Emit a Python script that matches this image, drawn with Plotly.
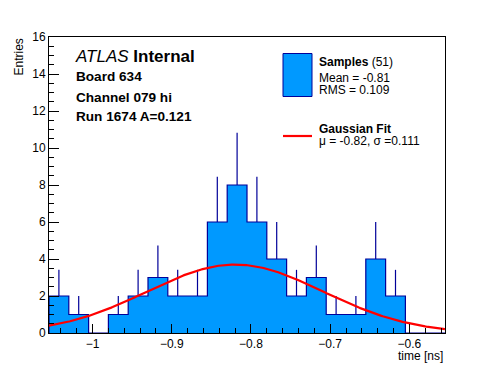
import numpy as np
import plotly.graph_objects as go

# ---- data ----
bin_low = -1.055
bin_width = 0.025
counts = [2, 1, 0, 1, 2, 3, 2, 2, 6, 8, 6, 4, 2, 3, 1, 1, 4, 2, 0, 0]
fit_mu = -0.82
fit_sigma = 0.111
fit_amp = 3.7
x_ticks = [-1.0, -0.9, -0.8, -0.7, -0.6]
x_ticklabels = ["\u22121", "\u22120.9", "\u22120.8", "\u22120.7", "\u22120.6"]
y_ticks = [0, 2, 4, 6, 8, 10, 12, 14, 16]
n_entries = 51
mean_txt = "-0.81"
rms_txt = "0.109"

FILL = "#0099ff"
EDGE = "#000099"
FONT = "Liberation Sans, Arial, Helvetica, sans-serif"

counts = np.array(counts, dtype=float)
nb = len(counts)
edges = bin_low + bin_width * np.arange(nb + 1)
centers = (edges[:-1] + edges[1:]) / 2
x_lo, x_hi = edges[0], edges[-1]

# step outline
sx = np.concatenate([[edges[0]], edges[:-1], [edges[-1]]])
sy = np.concatenate([[0], counts, [0]])

fig = go.Figure()
fig.add_trace(go.Scatter(x=sx, y=sy, mode="lines", line=dict(shape="hv", color=EDGE, width=1.2),
                         fill="tozeroy", fillcolor=FILL, hoverinfo="skip", showlegend=False))
mask = counts > 0
fig.add_trace(go.Scatter(x=centers[mask], y=counts[mask], mode="markers",
                         marker=dict(size=1, color=EDGE, opacity=0),
                         error_y=dict(type="data", array=np.sqrt(counts[mask]), arrayminus=np.zeros(mask.sum()),
                                      symmetric=False, width=0, color=EDGE, thickness=1.2),
                         showlegend=False))
gx = np.linspace(x_lo, x_hi, 300)
gy = fit_amp * np.exp(-0.5 * ((gx - fit_mu) / fit_sigma) ** 2)
fig.add_trace(go.Scatter(x=gx, y=gy, mode="lines", line=dict(color="#ff0000", width=2.2), showlegend=False))

L, R, T, B = 49, 51, 37, 39
pw, ph = 496 - L - R, 372 - T - B
def px(x):
    return (x - L) / pw
def py(y):
    return (372 - B - y) / ph

ann = []
def text(x, y, s, size, xanchor="left", yanchor="middle", angle=0):
    ann.append(dict(x=px(x), y=py(y), xref="paper", yref="paper", text=s, showarrow=False,
                    xanchor=xanchor, yanchor=yanchor, textangle=angle,
                    font=dict(family=FONT, size=size, color="black")))

text(73, 57, "<i>ATLAS</i> <b>Internal</b>", 17)
text(74, 77, "<b>Board 634</b>", 13.6)
text(74, 97, "<b>Channel 079 hi</b>", 13.6)
text(74, 116.5, "<b>Run 1674 A=0.121</b>", 13.6)

text(317, 62, f"<b>Samples</b> ({n_entries})", 12)
text(317, 77.5, f"Mean = {mean_txt}", 12)
text(317, 90.5, f"RMS = {rms_txt}", 12)
text(317, 129, "<b>Gaussian Fit</b>", 12)
text(317, 141, f"\u03bc = {fit_mu:.2f}, \u03c3 ={fit_sigma:.3f}", 12)

text(445, 355.5, "time [ns]", 12, xanchor="right")
ann.append(dict(x=px(18), y=1, xref="paper", yref="paper", text="Entries", showarrow=False,
                xanchor="center", yanchor="top", textangle=-90,
                font=dict(family=FONT, size=12, color="black")))

shapes = [
    dict(type="rect", xref="paper", yref="paper", x0=px(283), x1=px(312), y0=py(96.5), y1=py(53.5),
         fillcolor=FILL, line=dict(color=EDGE, width=1)),
    dict(type="line", xref="paper", yref="paper", x0=px(283), x1=px(312), y0=py(136), y1=py(136),
         line=dict(color="#ff0000", width=2.2)),
]

fig.update_layout(
    width=496, height=372, margin=dict(l=L, r=R, t=T, b=B),
    paper_bgcolor="white", plot_bgcolor="white",
    font=dict(family=FONT, size=12, color="black"),
    annotations=ann, shapes=shapes, showlegend=False,
    xaxis=dict(range=[x_lo, x_hi], tickvals=x_ticks, ticktext=x_ticklabels, ticks="inside", ticklen=9,
               tickcolor="black", showline=True, linecolor="black", linewidth=1, mirror=True,
               showgrid=False, zeroline=False, tickfont=dict(size=12),
               minor=dict(dtick=0.02, tick0=-1.0, ticks="inside", ticklen=5, tickcolor="black", showgrid=False)),
    yaxis=dict(range=[0, 16], tickvals=y_ticks, ticks="inside", ticklen=10,
               tickcolor="black", showline=True, linecolor="black", linewidth=1, mirror=True,
               showgrid=False, zeroline=False, tickfont=dict(size=12),
               minor=dict(dtick=0.5, tick0=0, ticks="inside", ticklen=5, tickcolor="black", showgrid=False)),
)

fig.write_html("out.html", config={"displayModeBar": False},
               post_script="document.body.style.margin='0';document.body.style.padding='0';")
